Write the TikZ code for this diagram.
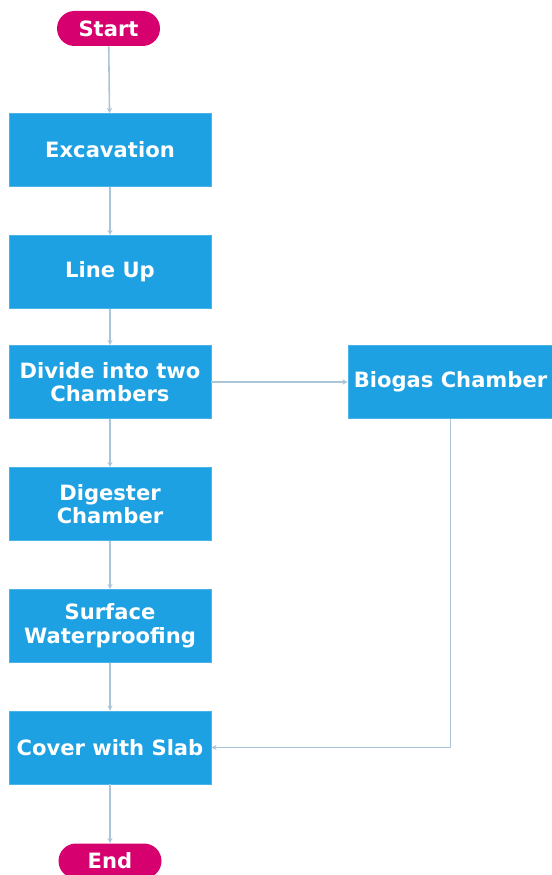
\documentclass[tikz,border=0pt]{standalone}
\usepackage{fontspec}
\setmainfont{DejaVu Sans}
\usepackage{tikz}
\usetikzlibrary{arrows.meta, positioning}
\definecolor{boxblue}{RGB}{29,161,226}
\definecolor{termpink}{RGB}{214,0,110}
\definecolor{linkgrey}{RGB}{170,196,216}
\tikzset{
  stepbox/.style={rectangle, fill=boxblue, draw=boxblue!80!white,
    align=center, minimum width=4.04cm,
    minimum height=1.46cm, text=white, line width=0.4pt,
    font=\fontsize{12}{13.5}\selectfont\bfseries},
  terminal/.style={rectangle, fill=termpink, text=white,
    minimum width=2.06cm, minimum height=0.7cm, rounded corners=0.35cm,
    font=\fontsize{12}{13.5}\selectfont\bfseries},
  arrow/.style={-{Stealth[length=3pt,width=3pt]}, line width=0.9pt, color=linkgrey}
}
\begin{document}
\begin{tikzpicture}
  \useasboundingbox (0,0) rectangle (11.02,-17.5);
  % terminals
  \node[terminal] (start) at (2.17,-0.57) {Start};
  \node[terminal] (end) at (2.2,-17.22) {End};
  % main column
  \node[stepbox] (excav) at (2.2,-3.0) {Excavation};
  \node[stepbox] (lineup) at (2.2,-5.44) {Line Up};
  \node[stepbox] (divide) at (2.2,-7.64) {Divide into two\\Chambers};
  \node[stepbox] (digester) at (2.2,-10.08) {Digester\\Chamber};
  \node[stepbox] (surface) at (2.2,-12.52) {Surface\\Waterproofing};
  \node[stepbox] (cover) at (2.2,-14.95) {Cover with Slab};
  % side branch
  \node[stepbox] (biogas) at (9.01,-7.64) {Biogas Chamber};
  % connectors
  \draw[arrow] (start) -- (excav);
  \draw[arrow] (excav) -- (lineup);
  \draw[arrow] (lineup) -- (divide);
  \draw[arrow] (divide) -- (digester);
  \draw[arrow] (digester) -- (surface);
  \draw[arrow] (surface) -- (cover);
  \draw[arrow] (cover) -- (end);
  \draw[arrow] (divide) -- (biogas);
  \draw[arrow] (biogas.south) |- (cover.east);
\end{tikzpicture}
\end{document}
